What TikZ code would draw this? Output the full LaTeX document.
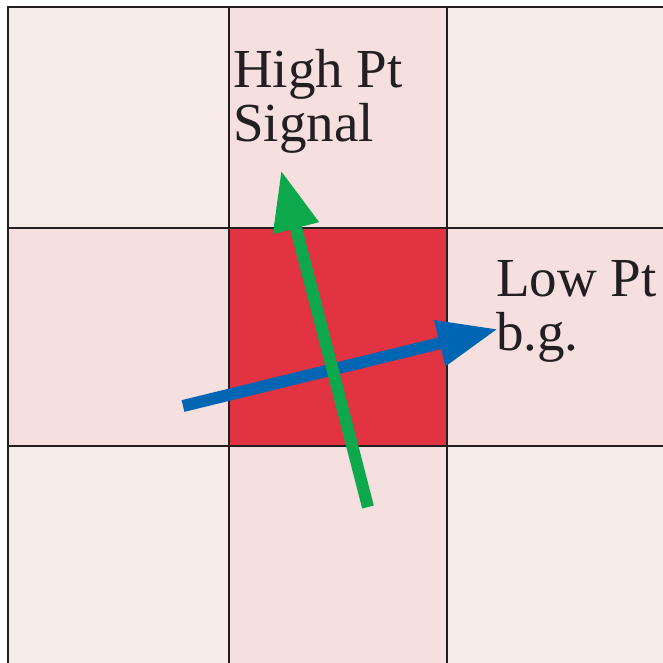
\documentclass[tikz,border=0pt]{standalone}
\usepackage{fontspec}
\setmainfont{Liberation Serif}
\usetikzlibrary{arrows.meta}
\definecolor{cellout}{HTML}{F6EBE7}
\definecolor{celledge}{HTML}{F5DFDF}
\definecolor{cellcore}{HTML}{E23342}
\definecolor{sigcol}{HTML}{0DA84B}
\definecolor{bgcol}{HTML}{0066B3}
\definecolor{gridcol}{HTML}{231F20}
\begin{document}
\begin{tikzpicture}[
    x=1pt, y=-1pt,
    cell/.style={draw=gridcol, line width=2pt},
    lbl/.style={font=\fontsize{55}{54}\selectfont, text=gridcol, align=left, inner sep=0pt, anchor=base west},
    track/.style={line width=12pt, -{Triangle[length=60pt, width=44pt]}}
]
\useasboundingbox (0,0) rectangle (663,662);

% ---- Calorimeter cells ----
\foreach \i/\xa/\xb in {0/8/229, 1/229/447, 2/447/680}{
  \foreach \j/\ya/\yb in {0/7/228, 1/228/446, 2/446/680}{
    \pgfmathtruncatemacro{\dist}{abs(\i-1)+abs(\j-1)}
    \ifnum\dist=0 \def\cellfill{cellcore}\else\ifnum\dist=1 \def\cellfill{celledge}\else\def\cellfill{cellout}\fi\fi
    \path[cell, fill=\cellfill] (\xa,\ya) rectangle (\xb,\yb);
  }
}

% ---- Labels ----
\node[lbl] (sig) at (233,141) {High Pt\\Signal};
\node[lbl] (bkg) at (496,350) {Low Pt\\b.g.};

% ---- Tracks ----
\coordinate (sigtail) at (368,507);
\coordinate (sigtip) at (281,170);
\coordinate (bgtail) at (183,406);
\coordinate (bgtip) at (498,329);
\draw[track, bgcol] (bgtail) -- (bgtip);
\draw[track, sigcol] (sigtail) -- (sigtip);

\end{tikzpicture}
\end{document}
